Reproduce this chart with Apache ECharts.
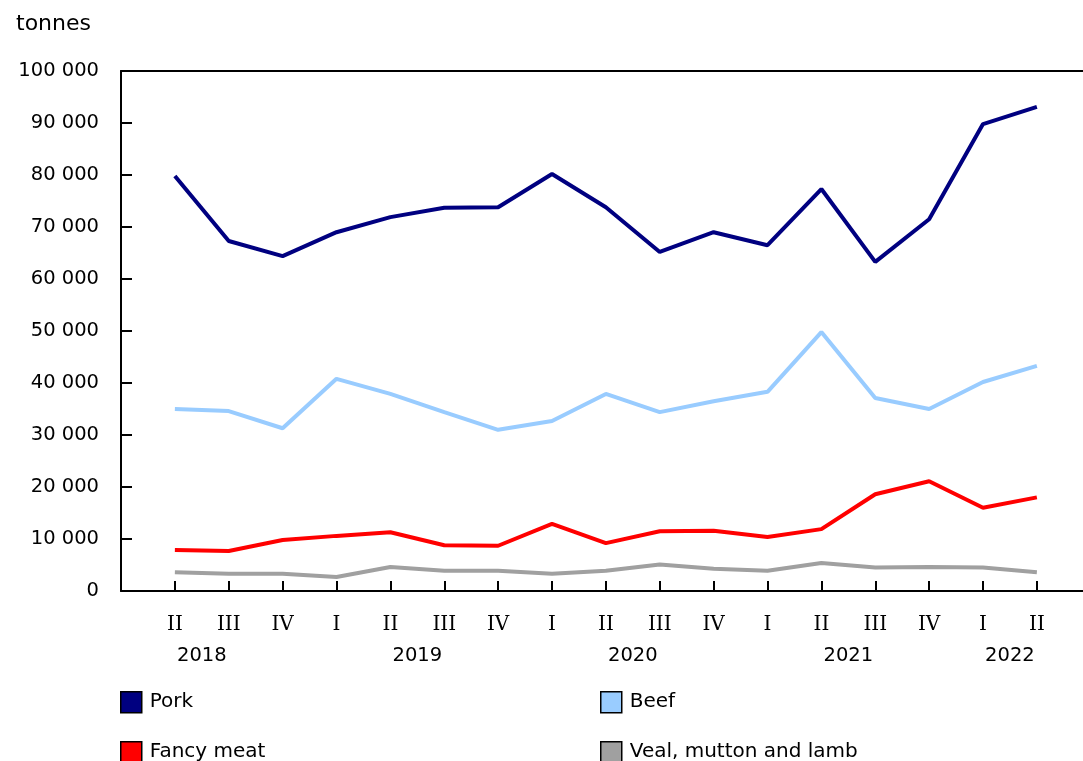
<!DOCTYPE html>
<html><head><meta charset="utf-8">
<script src="https://cdn.jsdelivr.net/npm/echarts@6/dist/echarts.min.js"></script>
<style>html,body{margin:0;padding:0;background:#fff}#c{width:1083px;height:761px}</style>
</head><body><div id="c"></div>
<script>
const quarterLabels = ['II','III','IV','I','II','III','IV','I','II','III','IV','I','II','III','IV','I','II'];
const quarterYears = ['2018','2018','2018','2019','2019','2019','2019','2020','2020','2020','2020','2021','2021','2021','2021','2022','2022'];
const yTicks = [0,10000,20000,30000,40000,50000,60000,70000,80000,90000,100000];
const seriesNames = ['Pork', 'Beef', 'Fancy meat', 'Veal, mutton and lamb'];

const pork  = [79800,67300,64400,69000,71900,73700,73800,80200,73800,65200,69000,66500,77300,63300,71500,89800,93100];
const beef  = [35000,34600,31300,40800,37900,34400,31000,32700,37900,34400,36500,38300,49800,37100,35000,40200,43300];
const fancy = [7900,7700,9800,10600,11300,8800,8700,12900,9200,11500,11600,10400,11900,18600,21100,16000,18000];
const veal  = [3600,3300,3300,2700,4600,3900,3900,3300,3900,5100,4300,3900,5400,4500,4600,4500,3600];

// main category axis: one blank slot before and after the quarters
const mainCats = [''].concat(quarterLabels, ['']);
const nSlots = mainCats.length - 1;
// half-step axis for year labels
const halfCats = new Array(nSlots * 2 + 1).fill('');
const years = [...new Set(quarterYears)];
years.forEach((y, k) => {
  const idx = quarterYears.map((v, i) => v === y ? i + 1 : -1).filter(i => i >= 0);
  const start = k === 0 ? 0 : Math.min(...idx);
  const end = Math.max(...idx);
  halfCats[start + end] = y;
});

const pad = a => [null].concat(a);
const fmt = v => String(v).replace(/\B(?=(\d{3})+(?!\d))/g, ' ');

const chart = echarts.init(document.getElementById('c'), null, {renderer: 'canvas'});
const sansFont = 'DejaVu Sans';
const legendBase = {orient: 'horizontal', itemWidth: 21, itemHeight: 21, icon: 'rect',
  itemStyle: {borderColor: '#000', borderWidth: 1.5},
  textStyle: {fontFamily: sansFont, fontSize: 20, color: '#000', padding: [0, 0, 0, 3]}};
chart.setOption({
  animation: false,
  backgroundColor: '#fff',
  title: {text: 'tonnes', left: 11, top: 8, textStyle: {fontFamily: sansFont, fontSize: 22, fontWeight: 'normal', color: '#000'}},
  grid: {left: 121, top: 71, width: 969.75, bottom: 170, containLabel: false, outerBoundsMode: 'none'},
  xAxis: [
    {type: 'category', data: mainCats, boundaryGap: false, position: 'bottom',
     axisLine: {lineStyle: {color: '#000', width: 2}},
     axisTick: {inside: true, length: 10, lineStyle: {color: '#000', width: 2}, interval: (i, v) => v !== ''},
     axisLabel: {interval: 0, margin: 24, fontFamily: 'DejaVu Serif', fontSize: 20, color: '#000'},
     splitLine: {show: false}},
    {type: 'category', data: halfCats, boundaryGap: false, position: 'bottom',
     axisLine: {show: false}, axisTick: {show: false},
     axisLabel: {interval: 0, margin: 55, fontFamily: sansFont, fontSize: 19.5, color: '#000'},
     splitLine: {show: false}},
    {type: 'category', data: mainCats, boundaryGap: false, position: 'top',
     axisLine: {lineStyle: {color: '#000', width: 2}}, axisTick: {show: false}, axisLabel: {show: false},
     splitLine: {show: false}}
  ],
  yAxis: {type: 'value', min: yTicks[0], max: yTicks[yTicks.length - 1], interval: yTicks[1] - yTicks[0],
    axisLine: {show: true, lineStyle: {color: '#000', width: 2}},
    axisTick: {show: true, inside: true, length: 11, lineStyle: {color: '#000', width: 2}},
    axisLabel: {margin: 22, fontFamily: sansFont, fontSize: 19.5, color: '#000', formatter: fmt},
    splitLine: {show: false}},
  legend: [
    Object.assign({left: 115, top: 686, data: [seriesNames[0]]}, legendBase),
    Object.assign({left: 595, top: 686, data: [seriesNames[1]]}, legendBase),
    Object.assign({left: 115, top: 736, data: [seriesNames[2]]}, legendBase),
    Object.assign({left: 595, top: 736, data: [seriesNames[3]]}, legendBase)
  ],
  series: [
    {name: seriesNames[0], type: 'line', data: pad(pork), color: '#000080', showSymbol: false, lineStyle: {width: 4}},
    {name: seriesNames[1], type: 'line', data: pad(beef), color: '#99ccff', showSymbol: false, lineStyle: {width: 4}},
    {name: seriesNames[2], type: 'line', data: pad(fancy), color: '#ff0000', showSymbol: false, lineStyle: {width: 4}},
    {name: seriesNames[3], type: 'line', data: pad(veal), color: '#a0a0a0', showSymbol: false, lineStyle: {width: 4}}
  ]
});
</script></body></html>
